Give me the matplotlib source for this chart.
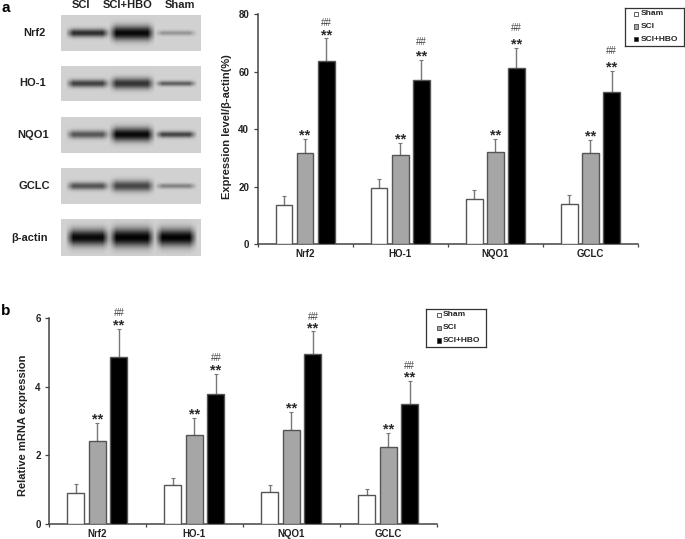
import numpy as np
import matplotlib
matplotlib.use("Agg")
import matplotlib.pyplot as plt
from matplotlib.patches import Rectangle

plt.rcParams['font.family'] = ['Liberation Sans', 'DejaVu Sans']
plt.rcParams['font.weight'] = 'bold'
plt.rcParams['axes.labelweight'] = 'bold'

W, H = 685, 539

targets = ["Nrf2", "HO-1", "NQO1", "GCLC"]
groups = ["Sham", "SCI", "SCI+HBO"]

# panel a, expression level
a_sham = [13.5, 19.6, 15.6, 14.0]
a_sci = [31.6, 30.9, 32.0, 31.6]
a_hbo = [63.7, 57.0, 61.3, 53.0]
a_sham_top = [16.8, 22.8, 19.0, 17.0]
a_sci_top = [36.5, 35.4, 36.5, 36.4]
a_hbo_top = [71.6, 64.0, 68.2, 60.2]
a_ticks = [0, 20, 40, 60, 80]

# panel b, mRNA
b_sham = [0.92, 1.13, 0.95, 0.84]
b_sci = [2.43, 2.60, 2.75, 2.25]
b_hbo = [4.86, 3.79, 4.95, 3.50]
b_sham_top = [1.17, 1.35, 1.14, 1.03]
b_sci_top = [2.95, 3.10, 3.25, 2.65]
b_hbo_top = [5.68, 4.37, 5.60, 4.17]
b_ticks = [0, 2, 4, 6]

# gap between error bar top and the ## mark, in pixels
a_hash_gap = [15.5, 18, 20, 20]
b_hash_gap = [15.5, 16, 14, 15]

# blots: band strength per lane (SCI, SCI+HBO, Sham), and thickness
blot_names = ["Nrf2", "HO-1", "NQO1", "GCLC", "β-actin"]
blot_label_x = [34, 33, 33.5, 34, 30]
blot_strength = [[0.85, 1.05, 0.30], [0.75, 0.82, 0.58], [0.65, 1.05, 0.75], [0.65, 0.72, 0.40], [1.05, 1.08, 1.08]]
blot_thick = [[4.0, 7.0, 2.5], [3.8, 5.5, 2.6], [3.8, 6.5, 3.0], [3.8, 5.5, 2.6], [8.0, 9.0, 8.5]]
lane_names = ["SCI", "SCI+HBO", "Sham"]


def px_axes(left, top, right, bottom):
    return fig.add_axes([left / W, 1 - bottom / H, (right - left) / W, (bottom - top) / H])


def draw_blot(name, label_x, strength, thick, top, bottom):
    ax = px_axes(61, top, 201, bottom)
    xx, yy = np.meshgrid(np.arange(140), np.arange(bottom - top))
    mid = (bottom - top) / 2 - 0.5
    img = np.full(xx.shape, 0.82)
    lanes = [(8, 45), (51, 90), (97, 132)]
    for (x0, x1), s, t in zip(lanes, strength, thick):
        edge = np.clip((xx - x0 + 4) / 8, 0, 1) * np.clip((x1 - xx + 4) / 8, 0, 1)
        img -= 0.75 * s * edge * np.exp(-((yy - mid) / t) ** 2)
    ax.imshow(np.clip(img, 0, 1), cmap='gray', vmin=0, vmax=1, aspect='auto', interpolation='bilinear')
    ax.axis('off')
    fig.text(label_x / W, 1 - (top + bottom) / 2 / H, name, ha='center', va='center', fontsize=8, color='#222222')


def draw_bars(ax, sham, sci, hbo, sham_top, sci_top, hbo_top, ticks, ylabel, hash_gap, label_y):
    x = np.arange(len(targets)) + 0.5
    series = [(sham, sham_top, 'white'), (sci, sci_top, '#a6a6a6'), (hbo, hbo_top, 'black')]
    for i, (vals, tops, col) in enumerate(series):
        pos = x + (i - 1) * 0.222
        ax.bar(pos, vals, 0.175, color=col, edgecolor='#555555', linewidth=1.0, label=groups[i], zorder=3)
        ax.errorbar(pos, vals, yerr=[np.zeros(4), np.array(tops) - np.array(vals)], fmt='none',
                    ecolor='#777777', elinewidth=1.0, capsize=1.5, capthick=0.8, zorder=2)
    for j in range(4):
        for px, top in [(x[j], sci_top[j]), (x[j] + 0.222, hbo_top[j])]:
            ax.annotate('**', (px, top), xytext=(0, 2.5), textcoords='offset points', ha='center', va='center',
                        fontsize=10.5, color='#2a2a2a')
        ax.annotate('##', (x[j] + 0.222, hbo_top[j]), xytext=(0, hash_gap[j] * 0.72), textcoords='offset points',
                    ha='center', va='center', fontsize=7, fontweight='normal', color='#444444')
    ax.set_xlim(0, 4)
    ax.set_ylim(ticks[0], ticks[-1])
    ax.set_yticks(ticks)
    ax.set_xticks(x)
    ax.set_xticklabels(targets)
    ax.set_xticks([0, 1, 2, 3, 4], minor=True)
    ax.tick_params(axis='x', which='major', length=0, labelsize=7, pad=3.5, labelcolor='#222222')
    ax.tick_params(axis='x', which='minor', length=2.5, width=0.9, color='#444444')
    ax.tick_params(axis='y', length=3, width=0.9, labelsize=7, pad=3, color='#444444', labelcolor='#222222')
    ax.set_ylabel(ylabel, fontsize=8, color='#222222')
    ax.yaxis.set_label_coords(*label_y)
    for s in ['top', 'right']:
        ax.spines[s].set_visible(False)
    for s in ['left', 'bottom']:
        ax.spines[s].set_linewidth(1.1)
        ax.spines[s].set_color('#444444')


def draw_legend(ax, left, top, right, bottom, mark_x, text_x):
    box = fig.add_axes([left / W, 1 - bottom / H, (right - left) / W, (bottom - top) / H], zorder=5)
    handles, labels = ax.get_legend_handles_labels()
    box.set_xticks([])
    box.set_yticks([])
    for s in box.spines.values():
        s.set_linewidth(0.9)
        s.set_color('#333333')
    ys = [5 / 6, 3 / 6, 1 / 6]
    cols = ['white', '#a6a6a6', 'black']
    for yy, lab, col in zip(ys, labels, cols):
        box.add_patch(Rectangle((mark_x, yy - 0.055), 0.07, 0.11, transform=box.transAxes,
                                facecolor=col, edgecolor='#444444', linewidth=0.6))
        box.text(text_x, yy, lab, transform=box.transAxes, ha='left', va='center', fontsize=6, color='#222222')


fig = plt.figure(figsize=(W / 100, H / 100), dpi=100)

fig.text(1 / W, 1 - 8.5 / H, 'a', fontsize=11, ha='left', va='center')
fig.text(1 / W, 1 - 311 / H, 'b', fontsize=11, ha='left', va='center')

for lane, cx in zip(lane_names, [81, 128, 180]):
    fig.text(cx / W, 1 - 5.5 / H, lane, ha='center', va='center', fontsize=8, color='#222222')

blot_rows = [(15, 51), (66, 101), (117, 153), (168, 204), (219, 256)]
for nm, lx, st, th, (t, b) in zip(blot_names, blot_label_x, blot_strength, blot_thick, blot_rows):
    draw_blot(nm, lx, st, th, t, b)

ax_a = px_axes(257.5, 14.3, 638, 244.3)
draw_bars(ax_a, a_sham, a_sci, a_hbo, a_sham_top, a_sci_top, a_hbo_top, a_ticks,
          'Expression level/β-actin(%)', a_hash_gap, (-0.067, 0.51))
draw_legend(ax_a, 625, 7.5, 684, 45.5, 0.15, 0.27)

ax_b = px_axes(49, 317.7, 436.7, 524.3)
draw_bars(ax_b, b_sham, b_sci, b_hbo, b_sham_top, b_sci_top, b_hbo_top, b_ticks,
          'Relative mRNA expression', b_hash_gap, (-0.053, 0.48))
draw_legend(ax_b, 426, 308.5, 486, 347, 0.18, 0.285)

fig.savefig('out.png', dpi=100)
